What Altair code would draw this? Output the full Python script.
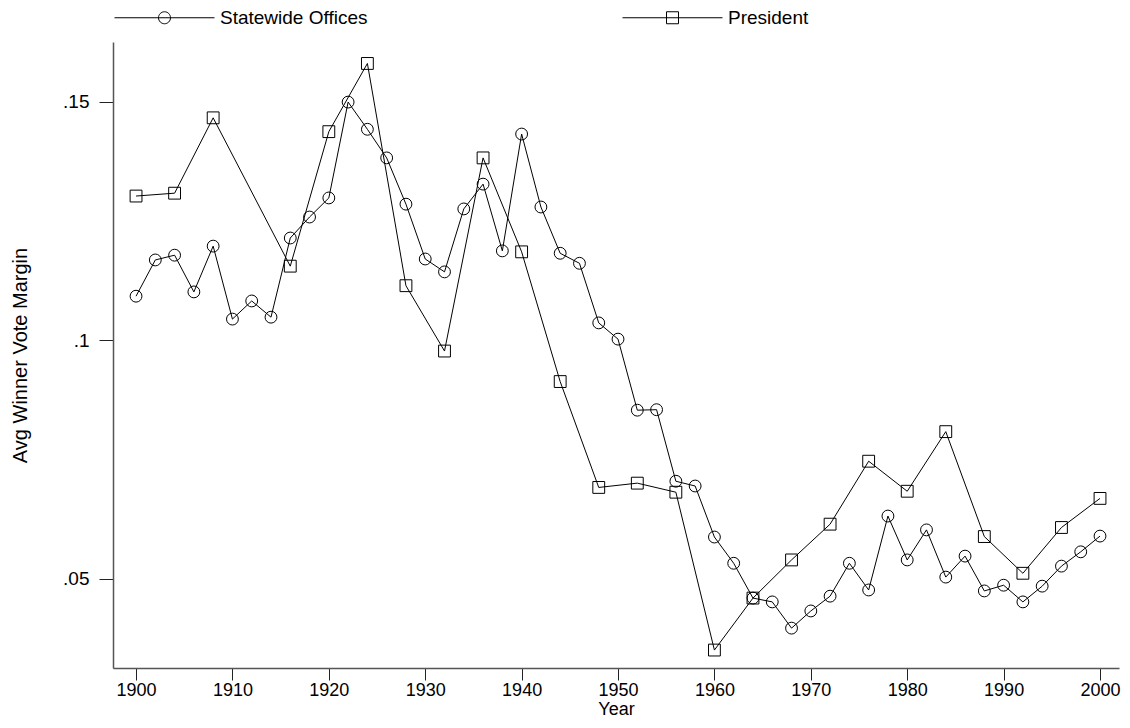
import altair as alt
import pandas as pd

FONT = "Liberation Sans"

series_names = ["Statewide Offices", "President"]

state_years = list(range(1900, 2001, 2))
state_vals = [
    0.1092, 0.1168, 0.1178, 0.1101, 0.1197, 0.1044, 0.1082, 0.1048, 0.1214, 0.1258,
    0.1298, 0.1499, 0.1442, 0.1382, 0.1285, 0.1170, 0.1143, 0.1275, 0.1327, 0.1187,
    0.1432, 0.1279, 0.1182, 0.1161, 0.1036, 0.1002, 0.0853, 0.0854, 0.0704, 0.0694,
    0.0587, 0.0532, 0.0459, 0.0451, 0.0396, 0.0432, 0.0463, 0.0532, 0.0476, 0.0631,
    0.0539, 0.0602, 0.0503, 0.0547, 0.0474, 0.0486, 0.0451, 0.0484, 0.0526, 0.0556,
    0.0589,
]

pres_years = [1900, 1904, 1908, 1916, 1920, 1924, 1928, 1932, 1936, 1940, 1944, 1948,
              1952, 1956, 1960, 1964, 1968, 1972, 1976, 1980, 1984, 1988, 1992, 1996, 2000]
pres_vals = [0.1302, 0.1308, 0.1466, 0.1155, 0.1437, 0.1580, 0.1114, 0.0977, 0.1382,
             0.1185, 0.0913, 0.0691, 0.0700, 0.0681, 0.0350, 0.0459, 0.0539, 0.0614,
             0.0746, 0.0683, 0.0808, 0.0588, 0.0511, 0.0607, 0.0668]

x_ticks = list(range(1900, 2001, 10))
y_ticks = [0.05, 0.10, 0.15]

df = pd.concat([
    pd.DataFrame({"year": state_years, "margin": state_vals, "series": series_names[0]}),
    pd.DataFrame({"year": pres_years, "margin": pres_vals, "series": series_names[1]}),
], ignore_index=True)

# legend symbols: a horizontal line with the marker in its middle
r = 0.12
k = 0.5523 * r
circle_path = (
    f"M-1,0H1M{r},0C{r},{k} {k},{r} 0,{r}C{-k},{r} {-r},{k} {-r},0"
    f"C{-r},{-k} {-k},{-r} 0,{-r}C{k},{-r} {r},{-k} {r},0Z"
)
square_path = f"M-1,0H1M{-r},{-r}H{r}V{r}H{-r}Z"

x_enc = alt.X("year:Q", scale=alt.Scale(domain=[1897.61, 2001.97], nice=False, zero=False),
              axis=alt.Axis(values=x_ticks, format="d", title="Year", grid=False,
                            tickSize=12, labelPadding=1, titlePadding=1,
                            labelFontSize=18, titleFontSize=18,
                            labelFlush=False, labelOverlap=False))
y_enc = alt.Y("margin:Q", scale=alt.Scale(domain=[0.03124, 0.1625], nice=False, zero=False),
              axis=alt.Axis(values=y_ticks, title="Avg Winner Vote Margin", grid=False,
                            labelExpr="replace(format(datum.value, '.2~f'), '0.', '.')",
                            tickSize=14, labelPadding=10, titlePadding=32,
                            labelFontSize=19, titleFontSize=20))

base = alt.Chart(df)

lines = base.mark_line(color="black", strokeWidth=1).encode(
    x=x_enc, y=y_enc, detail="series:N"
)

points = base.mark_point(filled=False, color="black", strokeWidth=1, size=140, opacity=1).encode(
    x=x_enc, y=y_enc,
    shape=alt.Shape("series:N", scale=alt.Scale(domain=series_names, range=["circle", "square"]),
                    legend=None),
)

legend_layer = base.transform_filter("false").mark_point(
    filled=False, color="black", strokeWidth=1, size=10000, opacity=1
).encode(
    x=x_enc, y=y_enc,
    shape=alt.Shape("series:N",
                    scale=alt.Scale(domain=series_names, range=[circle_path, square_path]),
                    legend=alt.Legend(title=None, orient="none", legendX=1, legendY=-75,
                                      direction="horizontal", columns=2,
                                      symbolSize=10000, symbolStrokeWidth=1,
                                      symbolStrokeColor="black", symbolFillColor="transparent",
                                      labelFont=FONT, labelFontSize=19, labelColor="black",
                                      labelOffset=5, columnPadding=252, padding=0,
                                      labelLimit=400)),
)

chart = alt.layer(lines, points, legend_layer).resolve_scale(shape="independent").properties(
    width=1006, height=626,
    background="white",
    autosize=alt.AutoSizeParams(type="none"),
    padding={"left": 105, "top": 34, "right": 3, "bottom": 52},
).configure_view(stroke=None).configure_axis(
    labelFont=FONT, titleFont=FONT,
    labelColor="black", titleColor="black", titleFontWeight="normal",
    domainColor="#555555", domainWidth=1.5, tickColor="#222222", tickWidth=1,
)

chart.save("out.html", embed_options={"renderer": "svg", "actions": False})
